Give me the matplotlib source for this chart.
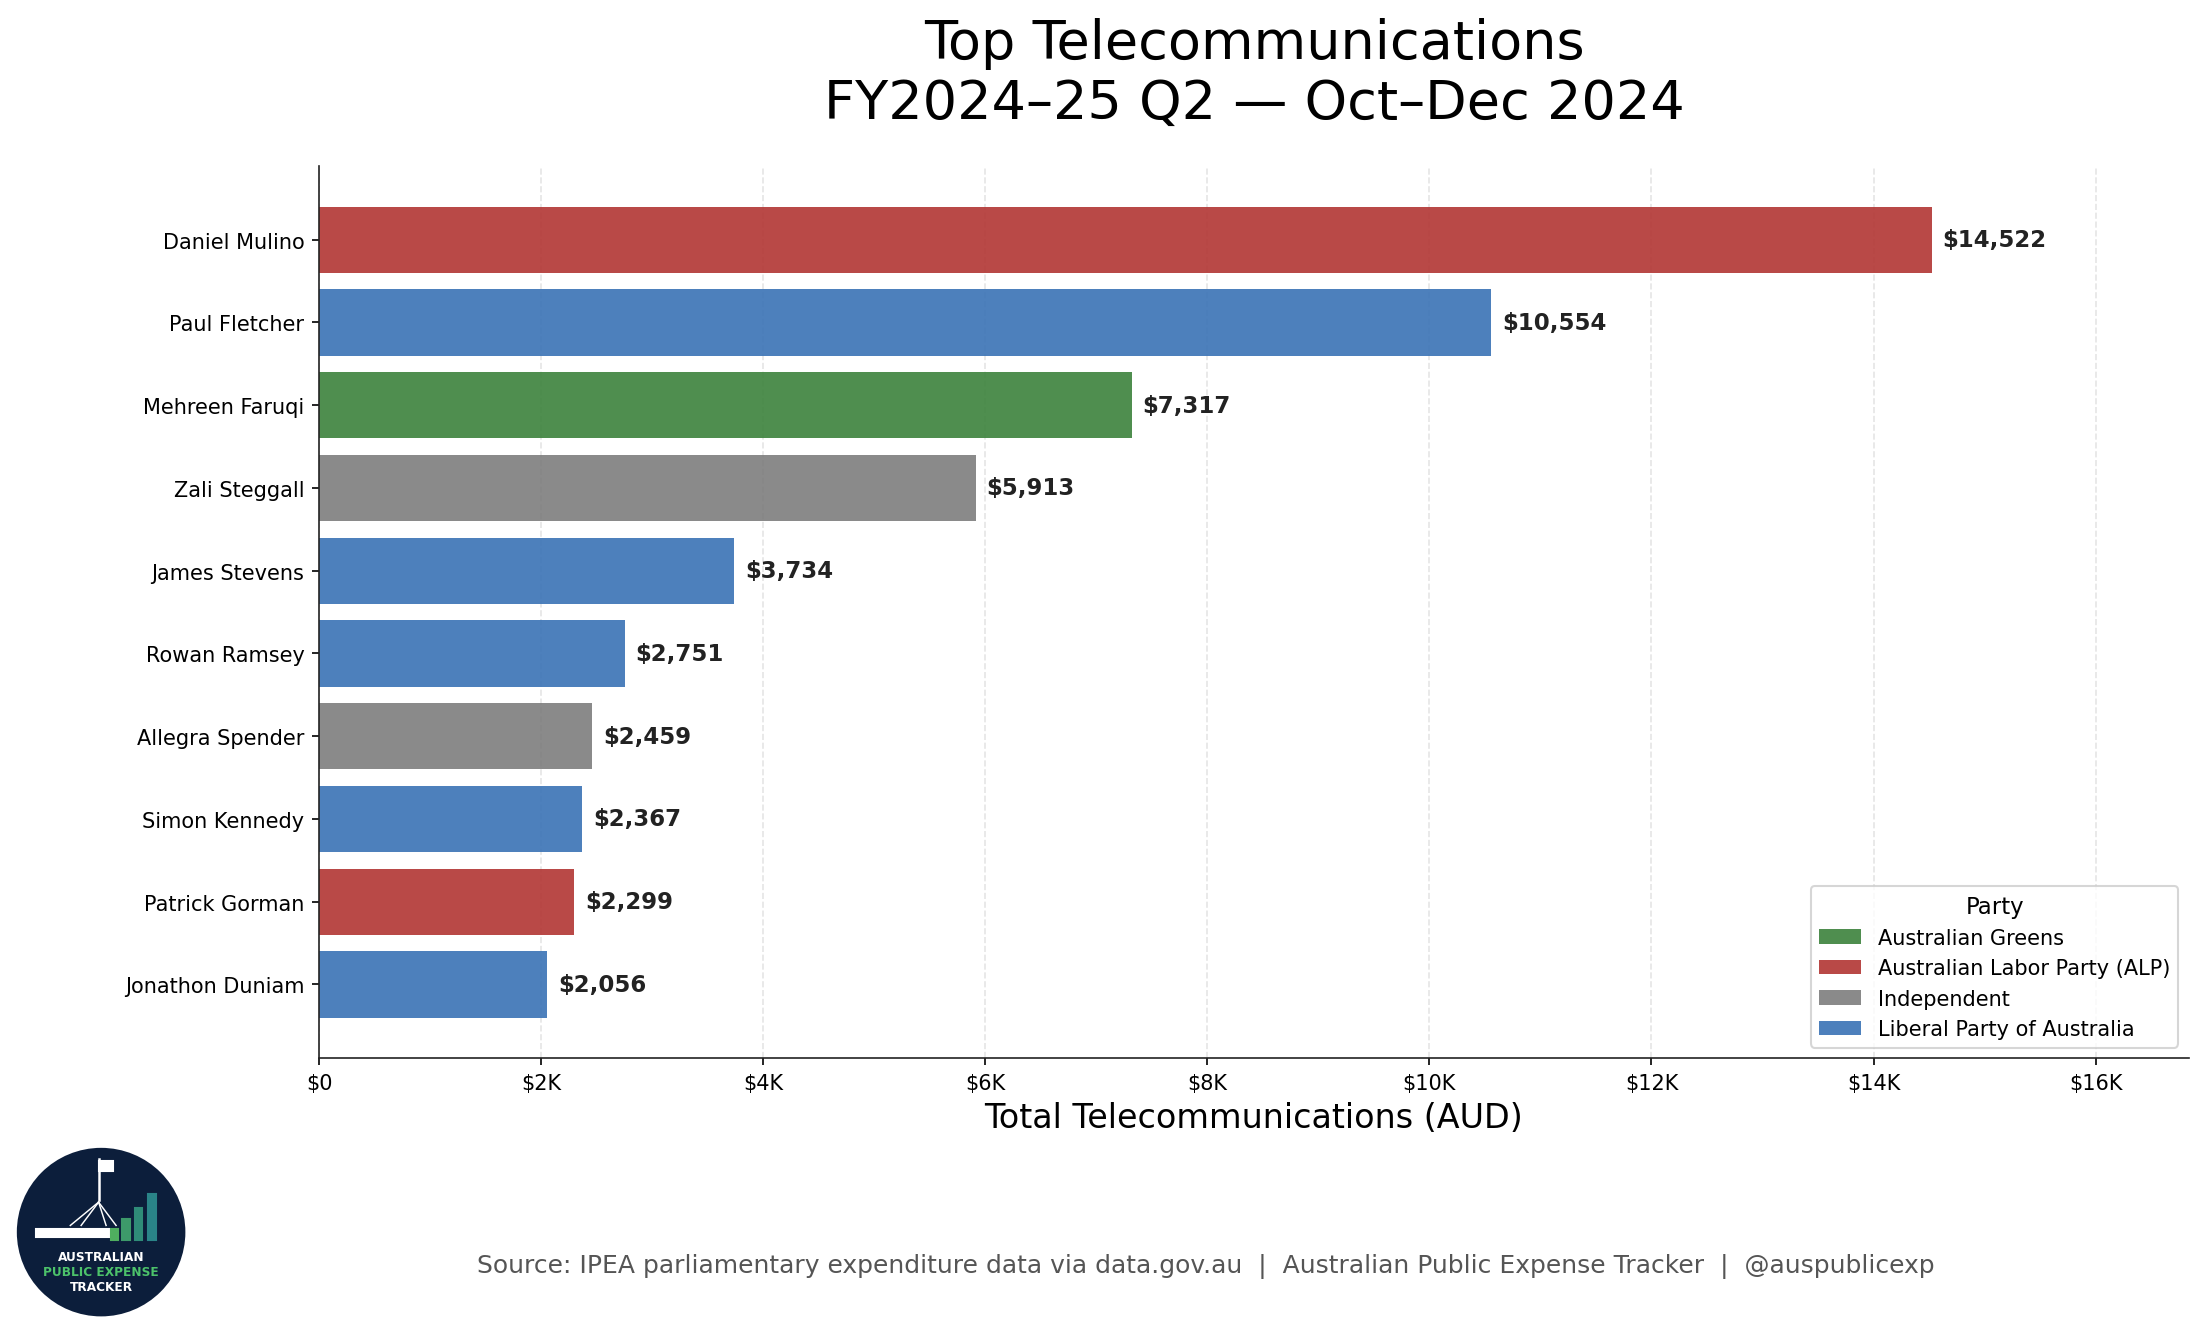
import matplotlib
matplotlib.use("Agg")
import matplotlib.pyplot as plt
from matplotlib.patches import Patch, Circle, Rectangle
from matplotlib.ticker import FuncFormatter

# data
members = ["Daniel Mulino", "Paul Fletcher", "Mehreen Faruqi", "Zali Steggall",
           "James Stevens", "Rowan Ramsey", "Allegra Spender", "Simon Kennedy",
           "Patrick Gorman", "Jonathon Duniam"]
totals = [14522, 10554, 7317, 5913, 3734, 2751, 2459, 2367, 2299, 2056]
parties = ["Australian Labor Party (ALP)", "Liberal Party of Australia", "Australian Greens",
           "Independent", "Liberal Party of Australia", "Liberal Party of Australia",
           "Independent", "Liberal Party of Australia", "Australian Labor Party (ALP)",
           "Liberal Party of Australia"]
party_colours = {
    "Australian Greens": "#3c823c",
    "Australian Labor Party (ALP)": "#b23533",
    "Independent": "#7d7d7d",
    "Liberal Party of Australia": "#3a72b5",
}

fig = plt.figure(figsize=(14.7, 8.913), dpi=150)
ax = fig.add_axes([0.1447, 0.2079, 0.848, 0.6672])

colours = [party_colours[p] for p in parties]
ax.barh(members, totals, height=0.8, color=colours, alpha=0.9, zorder=2)
ax.invert_yaxis()
ax.set_xlim(0, 16840)

for i, v in enumerate(totals):
    ax.text(v + 100, i, f"${v:,}", va="center", ha="left", fontsize=11,
            fontweight="bold", color="#222222", zorder=3)

ax.xaxis.set_major_formatter(FuncFormatter(lambda x, pos: "$0" if x == 0 else f"${x/1000:.0f}K"))
ax.set_xticks(range(0, 16001, 2000))
ax.grid(axis="x", linestyle="--", color="#cccccc", alpha=0.5, zorder=0)
ax.set_axisbelow(True)
for s in ["top", "right"]:
    ax.spines[s].set_visible(False)
for s in ["left", "bottom"]:
    ax.spines[s].set_color("#222222")
ax.tick_params(labelsize=10)

ax.set_xlabel("Total Telecommunications (AUD)", fontsize=16)
ax.set_title("Top Telecommunications\nFY2024\u201325 Q2 \u2014 Oct\u2013Dec 2024", fontsize=26, pad=23)

handles = [Patch(facecolor=party_colours[p], alpha=0.9, label=p) for p in sorted(party_colours)]
ax.legend(handles=handles, title="Party", loc="lower right", fontsize=10, title_fontsize=11)

fig.text(0.547, 0.053, "Source: IPEA parliamentary expenditure data via data.gov.au  |  "
         "Australian Public Expense Tracker  |  @auspublicexp",
         ha="center", va="center", fontsize=12, color="#555555")

# logo badge
lg = fig.add_axes([0.0073, 0.0142, 0.0771, 0.127])
lg.set_xlim(-1.02, 1.02)
lg.set_ylim(-1.02, 1.02)
lg.set_aspect("equal")
lg.axis("off")
lg.add_patch(Circle((0, 0), 1, color="#0c1e3b"))
lg.add_patch(Rectangle((-0.78, -0.06), 0.88, 0.1, color="white"))
lg.plot([-0.03, -0.03], [0.39, 0.88], color="white", lw=1.2)
lg.add_patch(Rectangle((-0.03, 0.74), 0.17, 0.12, color="white"))
for lx in [-0.37, -0.24, 0.06, 0.18]:
    lg.plot([-0.03, lx], [0.36, 0.08], color="white", lw=0.7)
bar_x = [0.16, 0.30, 0.45, 0.61]
bar_top = [0.04, 0.16, 0.29, 0.46]
bar_col = ["#4fae5f", "#3d9a6a", "#2f8c78", "#2a8488"]
for bx, bt, bc in zip(bar_x, bar_top, bar_col):
    lg.add_patch(Rectangle((bx - 0.045, -0.09), 0.09, bt + 0.09, color=bc))
lg.text(0, -0.29, "AUSTRALIAN", color="white", fontsize=5.8, fontweight="bold", ha="center", va="center")
lg.text(0, -0.47, "PUBLIC EXPENSE", color="#4cc26a", fontsize=5.8, fontweight="bold", ha="center", va="center")
lg.text(0, -0.65, "TRACKER", color="white", fontsize=5.8, fontweight="bold", ha="center", va="center")

fig.savefig("out.png", dpi=150)
